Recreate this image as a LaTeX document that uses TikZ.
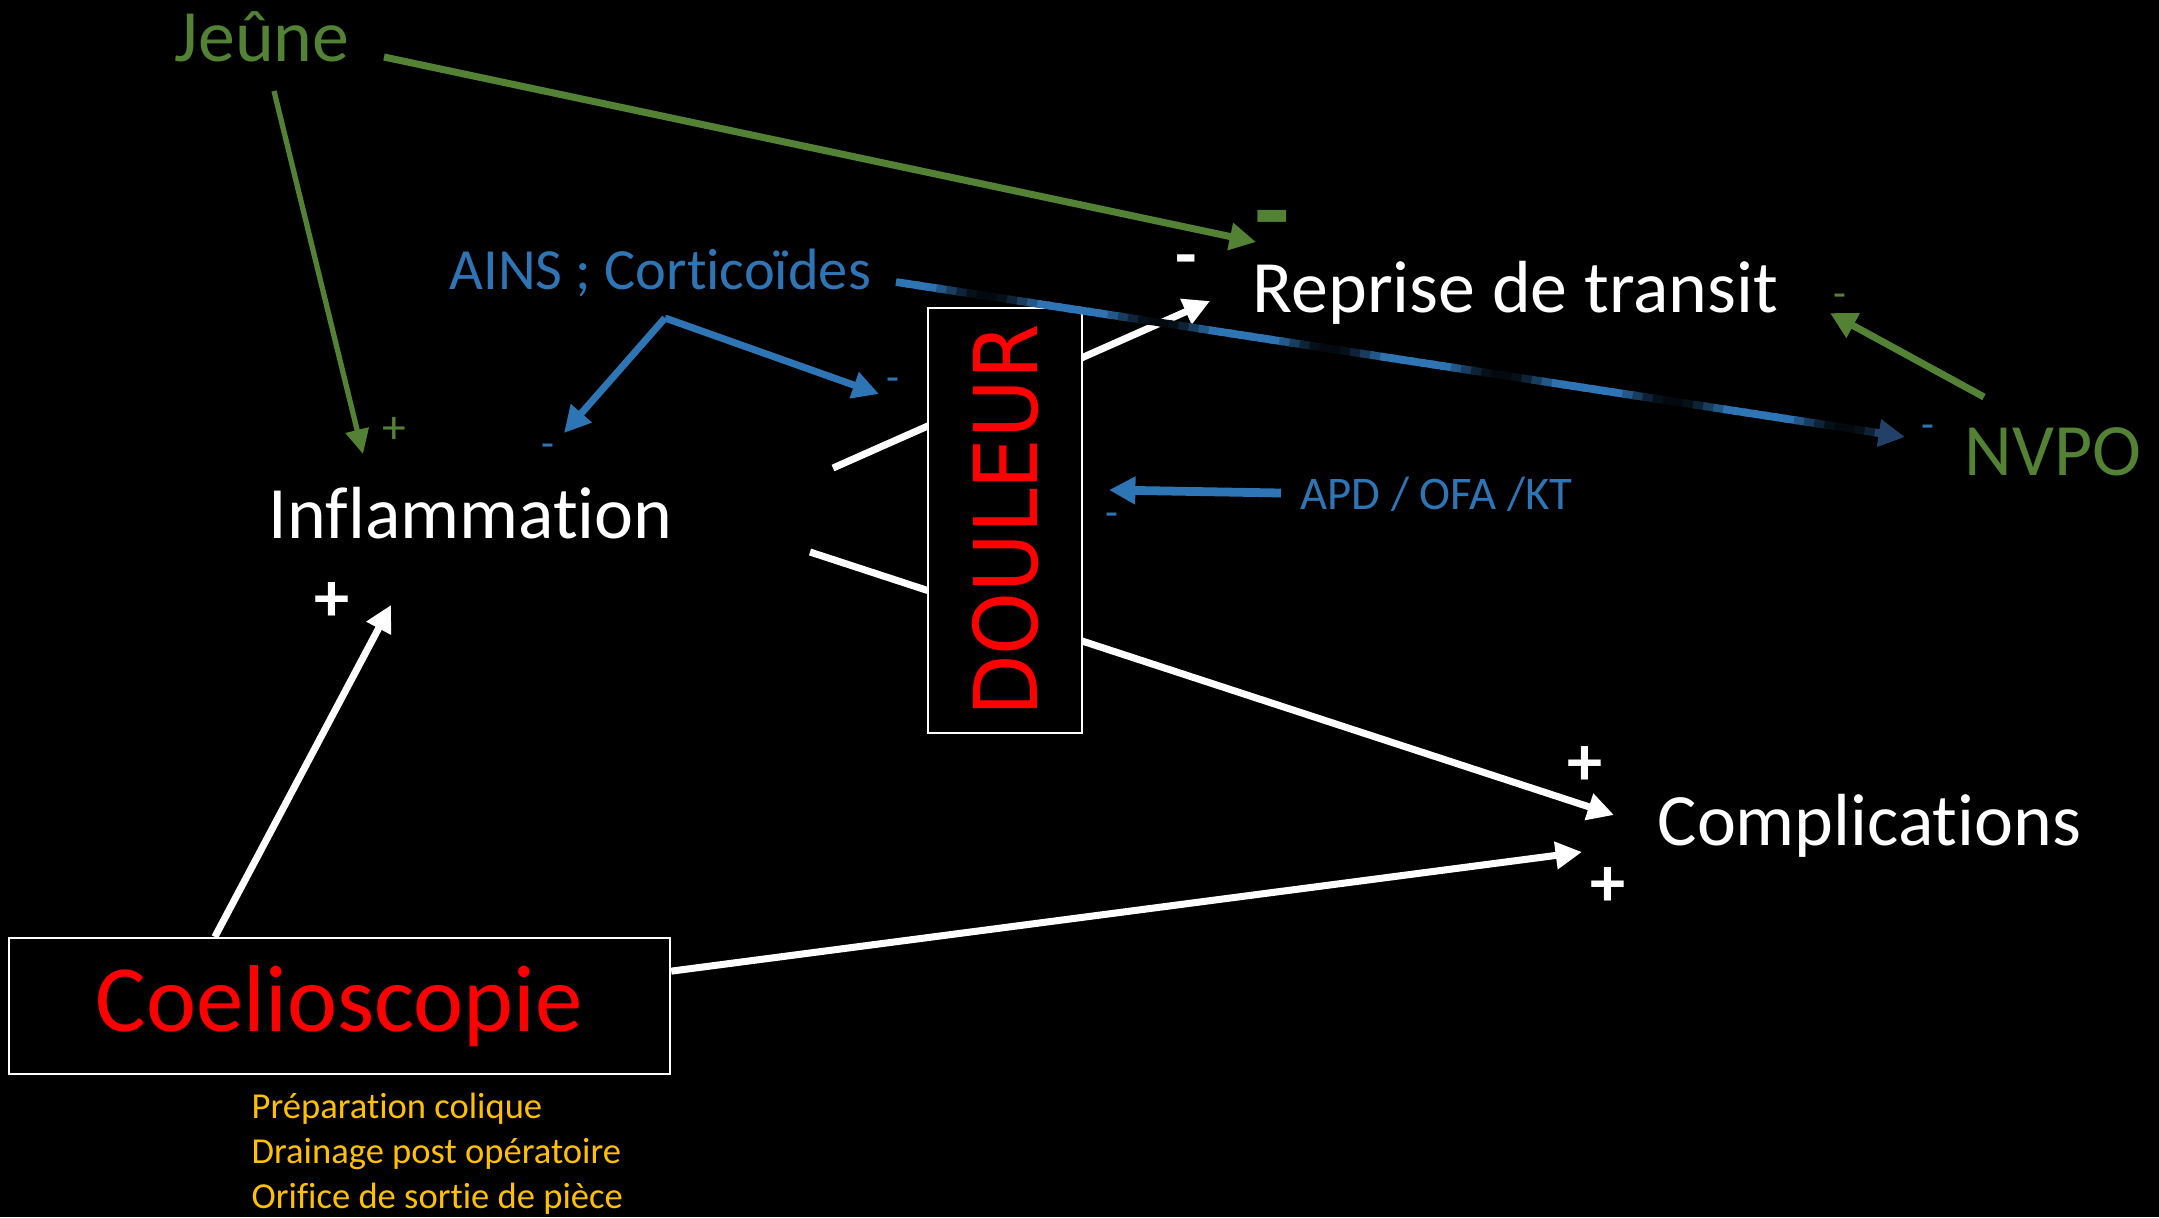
\documentclass[tikz,border=0pt]{standalone}
\usepackage{fontspec}
\setmainfont{Carlito}[Ligatures=NoCommon]
\newfontfamily\doulfont[FakeStretch=0.91]{DejaVu Sans}
\usetikzlibrary{arrows.meta,calc}
\definecolor{vert}{RGB}{84,130,53}
\definecolor{bleu}{RGB}{46,117,182}
\definecolor{bleufonce}{RGB}{34,64,104}
\definecolor{jaune}{RGB}{255,192,0}
\definecolor{rouge}{RGB}{255,0,0}
\tikzset{
	titre/.style={font=\fontsize{21}{21}\selectfont, anchor=base west},
	soustitre/.style={font=\fontsize{16.6}{16.6}\selectfont, anchor=base west},
	liste/.style={jaune, font=\fontsize{10.4}{12.8}\selectfont, anchor=base west},
	signe/.style={font=\bfseries\fontsize{20}{20}\selectfont},
	signep/.style={font=\fontsize{12}{12}\selectfont},
	fleche/.style={line width=2pt, -{Triangle[length=7.5pt,width=7.5pt]}},
	cadre/.style={draw=white, fill=black, text=rouge, line width=0.6pt}
}
\begin{document}
\begin{tikzpicture}[x=0.01cm, y=0.01cm]
	\tikzstyle{every node}+=[inner sep=0pt]
	\useasboundingbox (0,0) rectangle (2159,-1217);
	\fill [black] (0,0) rectangle (2159,-1217);
	% points de depart et d'arrivee des fleches
	\coordinate (jeune-bas) at (274,-91);
	\coordinate (jeune-droite) at (384,-57);
	\coordinate (infl-haut) at (363,-454);
	\coordinate (repr-haut) at (1256,-242);
	\coordinate (nvpo-gauche) at (1984,-397);
	\coordinate (repr-droite) at (1830,-313);
	\coordinate (ains-droite) at (896,-282);
	\coordinate (nvpo-haut) at (1905,-437);
	\coordinate (ains-bas) at (665,-318);
	\coordinate (infl-ains) at (564,-433);
	\coordinate (doul-ains) at (879,-394);
	\coordinate (apd-gauche) at (1281,-493);
	\coordinate (doul-apd) at (1109,-490);
	\coordinate (infl-droite1) at (833,-468);
	\coordinate (repr-bas) at (1210,-301);
	\coordinate (infl-droite2) at (810,-552);
	\coordinate (compl-haut) at (1614,-815);
	\coordinate (infl-bas) at (391,-605);
	\coordinate (compl-bas) at (1582,-852);
	% noeuds
	\node [titre, vert] (jeune) at (174,-61) {Jeûne};
	\node [titre, white] (infl) at (268,-538) {Inflammation};
	\node [titre, white] (repr) at (1252,-312) {Reprise de transit};
	\node [titre, vert] (nvpo) at (1964,-475) {NVPO};
	\node [titre, white] (compl) at (1657,-845) {Complications};
	\node [soustitre, bleu] (ains) at (449,-289) {AINS ; Corticoïdes};
	\node [font=\fontsize{13.3}{13.3}\selectfont, anchor=base west, bleu] (apd) at (1300,-509) {APD / OFA /KT};
	\node [cadre, minimum width=6.61cm, minimum height=1.36cm, font=\fontsize{27}{27}\selectfont] (coelio) at (339.5,-1006) {Coelioscopie};
	\node [liste] (prep1) at (251,-1118) {Préparation colique};
	\node [liste] (prep2) at (251,-1163) {Drainage post opératoire};
	\node [liste] (prep3) at (251,-1208) {Orifice de sortie de pièce};
	% fleches blanches (derriere la douleur)
	\draw [white, fleche] (infl-droite1) -- (repr-bas);
	\draw [white, fleche] (infl-droite2) -- (compl-haut);
	\draw [white, fleche] (coelio.151.7) -- (infl-bas);
	\draw [white, fleche] (coelio.6.2) -- (compl-bas);
	\node [cadre, rotate=90, minimum width=4.25cm, minimum height=1.54cm, font=\doulfont\fontsize{25}{25}\selectfont] (doul) at (1005,-520.5) {DOULEUR\hspace{0.3cm}};
	% fleches vertes
	\draw [vert, line width=1.5pt, -{Triangle[length=7pt,width=6.5pt]}] (jeune-bas) -- (infl-haut);
	\draw [vert, fleche] (jeune-droite) -- (repr-haut);
	\draw [vert, fleche] (nvpo-gauche) -- (repr-droite);
	% fleches bleues
	\draw [bleu, fleche] (ains-bas) -- (infl-ains);
	\draw [bleu, fleche] (ains-bas) -- (doul-ains);
	\draw [bleu, fleche, line width=2.5pt] (apd-gauche) -- (doul-apd);
	\foreach \i in {0,...,96} {
		\pgfmathsetmacro{\p}{int(max(8,min(100,70+65*cos(\i*21.176))))}
		\draw [bleu!\p!black, line width=2.2pt] ($(ains-droite)!\i/100!(nvpo-haut)$) -- ($(ains-droite)!{(\i+1.4)/100}!(nvpo-haut)$);
	}
	\draw [bleufonce, fleche, line width=2.2pt] ($(ains-droite)!0.97!(nvpo-haut)$) -- (nvpo-haut);
	% signes
	\node [signe, vert, font=\bfseries\fontsize{33}{33}\selectfont] (m1) at (1272,-230) {-};
	\node [signe, white] (m2) at (1186,-267) {-};
	\node [signep, vert] (m3) at (1840,-301) {-};
	\node [signep, bleu] (m4) at (1928,-432) {-};
	\node [signep, bleu] (m5) at (893,-385) {-};
	\node [signep, bleu] (m6) at (548,-451) {-};
	\node [signep, bleu] (m7) at (1112,-520) {-};
	\node [vert, font=\fontsize{13.5}{13.5}\selectfont] (p1) at (394,-430) {+};
	\node [signe, white] (p2) at (332,-602) {+};
	\node [signe, white] (p3) at (1585,-766) {+};
	\node [signe, white] (p4) at (1608,-887) {+};
\end{tikzpicture}
\end{document}
